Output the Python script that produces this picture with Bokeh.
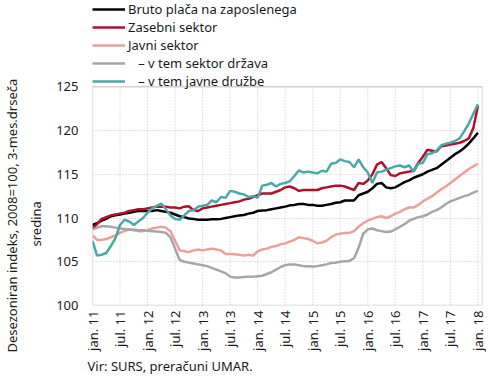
import math
from bokeh.plotting import figure
from bokeh.models import Range1d, FixedTicker, Legend, LegendItem, Title
from bokeh.embed import file_html
from bokeh.resources import INLINE

months = list(range(85))
tick_pos = list(range(0, 85, 6))
tick_labels = ["jan. 11", "jul. 11", "jan. 12", "jul. 12", "jan. 13", "jul. 13",
               "jan. 14", "jul. 14", "jan. 15", "jul. 15", "jan. 16", "jul. 16",
               "jan. 17", "jul. 17", "jan. 18"]
y_ticks = [100, 105, 110, 115, 120, 125]

bruto = [109.2, 109.4, 109.7, 109.9, 110.2, 110.3, 110.4, 110.5, 110.6, 110.7, 110.8, 110.8,
         110.8, 110.8, 110.9, 110.8, 110.7, 110.6, 110.4, 110.2, 110.1, 109.95, 109.9, 109.8,
         109.8, 109.8, 109.85, 109.85, 109.9, 110.0, 110.1, 110.2, 110.3, 110.35, 110.5, 110.6,
         110.8, 110.85, 110.9, 111.0, 111.1, 111.2, 111.3, 111.45, 111.5, 111.6, 111.6, 111.5,
         111.5, 111.4, 111.4, 111.5, 111.6, 111.75, 111.8, 112.0, 112.0, 112.0, 112.6, 112.8,
         113.0, 113.4, 113.9, 114.0, 113.5, 113.4, 113.5, 113.8, 114.1, 114.3, 114.6, 114.8,
         115.0, 115.3, 115.5, 115.7, 116.1, 116.5, 116.9, 117.3, 117.6, 118.0, 118.5, 119.1,
         119.75]
zasebni = [108.8, 109.3, 109.9, 110.1, 110.3, 110.4, 110.5, 110.6, 110.8, 110.9, 111.0, 111.0,
           111.1, 111.2, 111.3, 111.3, 111.3, 111.2, 111.2, 111.1, 111.3, 111.35, 110.9, 110.8,
           111.1, 111.2, 111.3, 111.4, 111.5, 111.6, 111.7, 111.8, 111.9, 112.1, 112.2, 112.4,
           112.6, 112.8, 112.8, 112.8, 113.0, 113.2, 113.5, 113.6, 113.4, 113.1, 113.2, 113.2,
           113.2, 113.2, 113.4, 113.5, 113.6, 113.7, 113.7, 113.6, 113.4, 113.2, 114.0, 113.9,
           114.3, 115.0, 116.1, 116.4, 115.7, 114.9, 114.8, 115.1, 115.2, 115.3, 115.4, 116.3,
           117.0, 117.8, 117.7, 117.6, 118.2, 118.3, 118.4, 118.5, 118.6, 118.8, 119.1, 120.3,
           122.8]
javni = [108.0, 107.5, 107.5, 107.6, 107.8, 108.0, 108.3, 108.5, 108.7, 108.6, 108.5, 108.5,
         108.6, 108.8, 108.9, 109.0, 108.9, 108.5, 107.4, 106.3, 106.2, 106.1, 106.3, 106.4,
         106.3, 106.4, 106.5, 106.4, 106.3, 105.9, 105.9, 105.85, 105.8, 105.7, 105.8, 105.7,
         106.2, 106.4, 106.5, 106.7, 106.8, 107.0, 107.1, 107.3, 107.5, 107.8, 107.7, 107.6,
         107.4, 107.1, 107.2, 107.4, 107.8, 108.1, 108.2, 108.3, 108.3, 108.5, 109.0, 109.4,
         109.7, 109.9, 110.1, 110.2, 110.0, 110.2, 110.5, 110.7, 111.0, 111.2, 111.2, 111.5,
         111.9, 112.2, 112.5, 112.9, 113.3, 113.6, 114.0, 114.4, 114.8, 115.2, 115.6, 115.9,
         116.2]
drzava = [108.7, 108.9, 109.05, 109.05, 109.0, 108.9, 108.8, 108.75, 108.7, 108.65, 108.6, 108.6,
          108.55, 108.5, 108.45, 108.4, 108.3, 107.8, 106.5, 105.2, 105.0, 104.9, 104.8, 104.7,
          104.6, 104.5, 104.3, 104.1, 103.9, 103.7, 103.3, 103.2, 103.2, 103.25, 103.3, 103.3,
          103.35, 103.4, 103.6, 103.8, 104.1, 104.4, 104.6, 104.7, 104.7, 104.6, 104.5, 104.5,
          104.45, 104.5, 104.6, 104.7, 104.85, 104.9, 105.0, 105.05, 105.1, 105.4, 106.6, 108.2,
          108.7, 108.8, 108.6, 108.5, 108.4, 108.45, 108.7, 109.0, 109.3, 109.7, 109.9, 110.1,
          110.2, 110.4, 110.7, 110.9, 111.2, 111.6, 111.9, 112.1, 112.3, 112.5, 112.65, 112.9,
          113.1]
druzbe = [107.4, 105.7, 105.8, 106.0, 106.8, 107.7, 109.2, 109.8, 109.6, 109.2, 109.6, 110.0,
          110.6, 111.1, 111.4, 111.65, 111.0, 110.3, 109.9, 109.8, 110.3, 110.8, 110.9, 111.3,
          111.4, 111.5, 112.0, 111.8, 112.4, 112.3, 113.1, 113.0, 112.8, 112.7, 112.4, 112.5,
          112.3, 113.7, 113.8, 114.0, 113.6, 113.9, 114.0, 114.2, 114.8, 115.45, 115.2, 115.3,
          115.2, 115.1, 115.4, 115.3, 116.2, 116.3, 116.7, 116.5, 116.4, 115.8, 116.7, 115.8,
          115.2, 114.0, 115.2, 115.3, 115.5, 115.7, 115.9, 116.0, 115.8, 116.0, 115.3, 116.2,
          116.3, 117.3, 117.4, 117.7, 118.3, 118.5, 118.6, 118.8, 119.1, 119.9, 120.8, 121.9,
          123.0]

series = [
    ("Bruto plača na zaposlenega", bruto, "#000000"),
    ("Zasebni sektor", zasebni, "#b0102c"),
    ("Javni sektor", javni, "#e8a19b"),
    ("\u00a0\u00a0\u00a0– v tem sektor država", drzava, "#a6a6a6"),
    ("\u00a0\u00a0\u00a0– v tem javne družbe", druzbe, "#4aa8a5"),
]

FONT = "Noto Sans"
TXT = "#1a1a1a"
Y_MIN, Y_MAX = y_ticks[0], y_ticks[-1]
X_MIN, X_MAX = 0, 85
Y_TOP = Y_MAX + 86 * (Y_MAX - Y_MIN) / 218.0   # room above the plot box for the legend

p = figure(width=486, height=376, output_backend="svg", toolbar_location=None,
           x_range=Range1d(X_MIN, X_MAX), y_range=Range1d(Y_MIN, Y_TOP),
           min_border_left=84, min_border_right=4, min_border_top=0, min_border_bottom=71)

p.background_fill_color = "white"
p.border_fill_color = "white"
p.outline_line_color = None

# dotted vertical grid lines and the plot box, limited to the data area
p.segment(x0=tick_pos[1:], y0=Y_MIN, x1=tick_pos[1:], y1=Y_MAX,
          line_color="#c4c4c4", line_dash="1 2", line_width=1)
p.quad(left=X_MIN, right=X_MAX, bottom=Y_MIN, top=Y_MAX,
       fill_color=None, line_color="#cfcfcf", line_width=1.5)

items = []
for name, vals, col in series:
    r = p.line(months, vals, line_color=col, line_width=2.5)
    items.append(LegendItem(label=name, renderers=[r]))

legend = Legend(items=items, location="top_left", orientation="vertical",
                background_fill_alpha=0, border_line_alpha=0,
                label_text_font=FONT, label_text_font_size="13px", label_text_color=TXT,
                glyph_width=33, glyph_height=16, label_height=16, label_standoff=3,
                spacing=0, padding=0, margin=0)
p.add_layout(legend, "center")

p.xaxis.ticker = FixedTicker(ticks=tick_pos)
p.xaxis.major_label_overrides = {t: l for t, l in zip(tick_pos, tick_labels)}
p.xaxis.major_label_orientation = math.pi / 2
p.yaxis.ticker = FixedTicker(ticks=y_ticks)

for ax in (p.xaxis, p.yaxis):
    ax.axis_line_color = None
    ax.major_tick_line_color = None
    ax.minor_tick_line_color = None
    ax.major_tick_out = 0
    ax.major_tick_in = 0
    ax.major_label_text_font = FONT
    ax.major_label_text_font_size = "13px"
    ax.major_label_text_color = TXT
p.xaxis.major_label_standoff = 5
p.yaxis.major_label_standoff = 14

p.xgrid.visible = False
p.ygrid.ticker = FixedTicker(ticks=y_ticks[1:-1])
p.ygrid.grid_line_color = "#c4c4c4"
p.ygrid.grid_line_dash = "1 2"
p.ygrid.grid_line_width = 1

p.add_layout(Title(text="sredina", align="left", offset=59, vertical_align="top",
                   text_font=FONT, text_font_size="13px", text_font_style="normal",
                   text_color=TXT, standoff=13), "left")
p.add_layout(Title(text="Desezoniran indeks, 2008=100, 3-mes.drseča", align="left", offset=-47,
                   text_font=FONT, text_font_size="13px", text_font_style="normal",
                   text_color=TXT, standoff=0), "left")
p.add_layout(Title(text="Vir: SURS, preračuni UMAR.", align="left", offset=-5,
                   text_font=FONT, text_font_size="13px", text_font_style="normal",
                   text_color=TXT, standoff=3), "below")

open("out.html", "w").write(file_html(p, INLINE))
